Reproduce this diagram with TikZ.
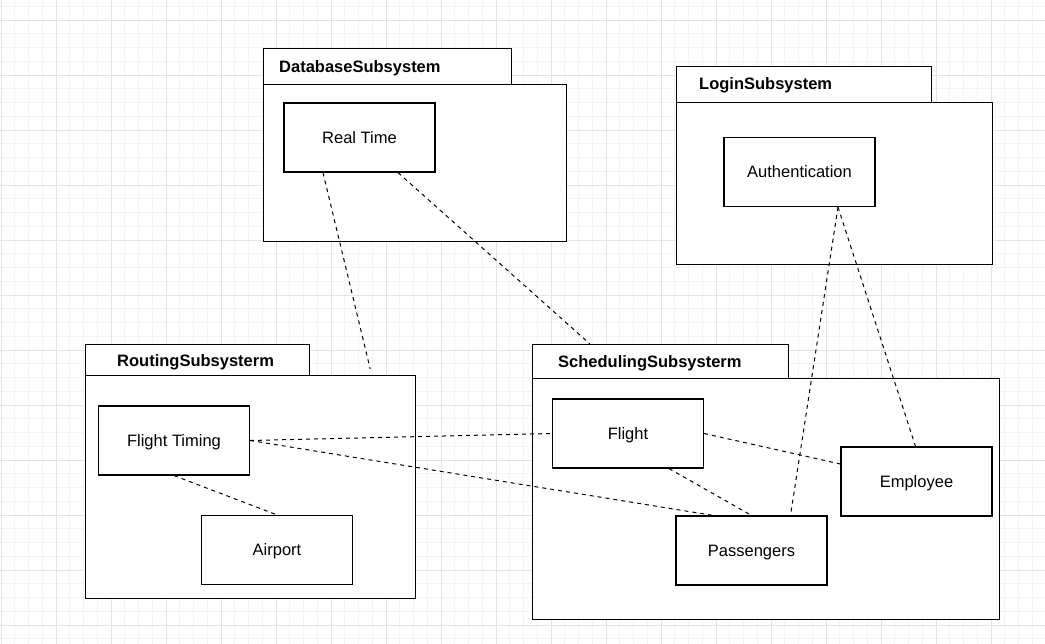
\documentclass[tikz,border=0pt]{standalone}
\usepackage{fontspec}
\setmainfont{Liberation Sans}
\definecolor{gridminor}{HTML}{F4F4F4}
\definecolor{gridmajor}{HTML}{E4E4E4}
\begin{document}
\begin{tikzpicture}[x=1pt, y=-1pt,
  every node/.style={font=\fontsize{16.5}{19}\selectfont, text height=14.9pt, text depth=3.5pt},
  pkgbox/.style={draw=black, fill=white, line width=1.2pt, rectangle, anchor=north west, inner sep=0pt},
  pkgtitle/.style={anchor=west, inner sep=0pt, font=\fontsize{16.5}{19}\selectfont\bfseries},
  item/.style={draw=black, fill=white, line width=1.2pt, rectangle, minimum width=151pt, minimum height=69pt, inner sep=0pt},
  link/.style={draw=black, line width=1pt, dash pattern=on 4pt off 4pt}]
\useasboundingbox (0,0) rectangle (1045,644);
% background grid
\foreach \i in {0,...,76} \draw[gridminor, line width=.8pt] ({1+13.75*\i},0) -- ({1+13.75*\i},644);
\foreach \j in {0,...,46} \draw[gridminor, line width=.8pt] (0,{6.25+13.75*\j}) -- (1045,{6.25+13.75*\j});
\foreach \i in {0,...,19} \draw[gridmajor, line width=.8pt] ({1+55*\i},0) -- ({1+55*\i},644);
\foreach \j in {0,...,11} \draw[gridmajor, line width=.8pt] (0,{20+55*\j}) -- (1045,{20+55*\j});
% packages
\node[pkgbox, minimum width=248pt, minimum height=36pt] (dbtab) at (263,48) {};
\node[pkgbox, minimum width=303pt, minimum height=157pt] (dbbody) at (263,84) {};
\node[pkgtitle] (dbtitle) at (279,67) {DatabaseSubsystem};
\node[pkgbox, minimum width=255pt, minimum height=36pt] (logtab) at (676,66) {};
\node[pkgbox, minimum width=316pt, minimum height=162pt] (logbody) at (676,102) {};
\node[pkgtitle] (logtitle) at (699,84) {LoginSubsystem};
\node[pkgbox, minimum width=224pt, minimum height=31pt] (routtab) at (85,344) {};
\node[pkgbox, minimum width=330pt, minimum height=223pt] (routbody) at (85,375) {};
\node[pkgtitle] (routtitle) at (117,361) {RoutingSubsysterm};
\node[pkgbox, minimum width=256pt, minimum height=34pt] (schedtab) at (532,344) {};
\node[pkgbox, minimum width=467pt, minimum height=241pt] (schedbody) at (532,378) {};
\node[pkgtitle] (schedtitle) at (558,362) {SchedulingSubsysterm};
% classes
\node[item] (rt) at (359.5,137.5) {Real Time};
\node[item] (auth) at (799.5,172) {Authentication};
\node[item] (ft) at (174,440.5) {Flight Timing};
\node[item] (ap) at (277,550) {Airport};
\node[item] (fl) at (628,433.5) {Flight};
\node[item] (emp) at (916.5,481.5) {Employee};
\node[item] (pass) at (751.5,550.5) {Passengers};
% dependencies
\path[link] ([xshift=-36.5pt]rt.south) -- ([xshift=-46pt,yshift=6pt]routbody.north east);
\path[link] ([xshift=38.5pt]rt.south) -- ([xshift=58pt]schedtab.north west);
\path[link] ([xshift=38.5pt]auth.south) -- ([xshift=39pt]pass.north);
\path[link] ([xshift=38.5pt]auth.south) -- ([xshift=-1pt]emp.north);
\path[link] (ft.east) -- (fl.west);
\path[link] (ft.east) -- ([xshift=-38.5pt]pass.north);
\path[link] ([xshift=41pt]fl.south) -- (pass.north);
\path[link] (fl.east) -- ([yshift=17.5pt]emp.west);
\path[link] (ft.south) -- (ap.north);
\end{tikzpicture}
\end{document}
